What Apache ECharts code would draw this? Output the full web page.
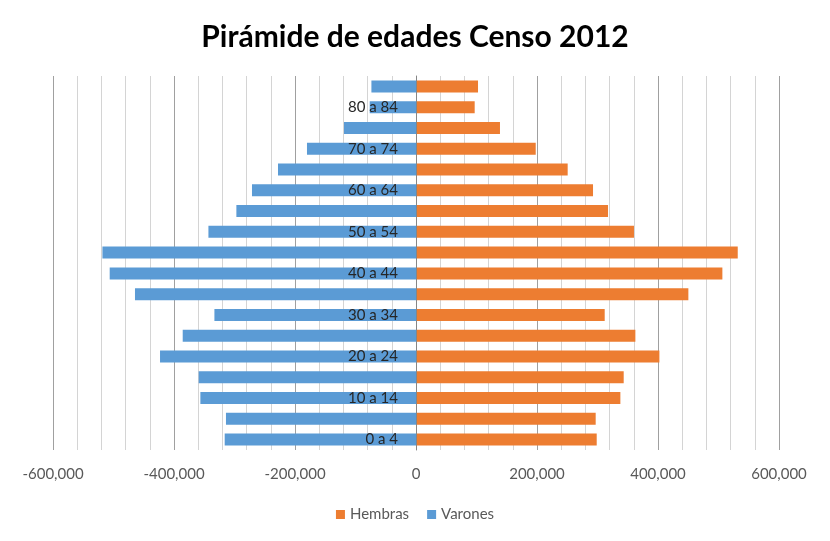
<!DOCTYPE html>
<html>
<head>
<meta charset="utf-8">
<script src="https://cdn.jsdelivr.net/npm/echarts@6/dist/echarts.min.js"></script>
<style>html,body{margin:0;padding:0;background:#fff;}#c{width:830px;height:541px;}</style>
</head>
<body>
<div id="c"></div>
<script>
const categories = ['0 a 4','5 a 9','10 a 14','15 a 19','20 a 24','25 a 29','30 a 34','35 a 39','40 a 44','45 a 49','50 a 54','55 a 59','60 a 64','65 a 69','70 a 74','75 a 79','80 a 84','85 y más'];
const hembras = [298700, 297000, 337800, 343300, 402300, 362600, 311900, 450200, 506400, 531800, 360300, 317400, 292600, 250700, 197900, 138800, 97000, 102500];
const varones = [316200, 314100, 356400, 359200, 423100, 385600, 333200, 464500, 506300, 518300, 343100, 296900, 271100, 228100, 180200, 119000, 76500, 73700];
const xTicks = {min: -600000, max: 600000, interval: 200000};

const font = 'Lato, "Open Sans", sans-serif';
const gridLeft = 53, gridRight = 51;
const plotWidth = 830 - gridLeft - gridRight;
const chart = echarts.init(document.getElementById('c'), null, {renderer: 'canvas'});
chart.setOption({
  backgroundColor: '#ffffff',
  animation: false,
  title: {
    text: 'Pirámide de edades Censo 2012',
    left: 'center', top: 17,
    textStyle: {fontFamily: font, fontWeight: 'bold', fontSize: 30, color: '#000'}
  },
  legend: {
    data: ['Hembras', 'Varones'],
    bottom: 14, left: 'center',
    icon: 'rect', itemWidth: 9, itemHeight: 9, itemGap: 18,
    textStyle: {fontFamily: font, fontSize: 15, color: '#595959'}
  },
  grid: {left: gridLeft, right: gridRight, top: 76, bottom: 91, containLabel: false, outerBoundsMode: 'none'},
  xAxis: {
    type: 'value',
    min: xTicks.min, max: xTicks.max, interval: xTicks.interval,
    axisLine: {show: false}, axisTick: {show: false},
    axisLabel: {
      margin: 17, fontFamily: font, fontSize: 15, color: '#595959',
      formatter: v => (v < 0 ? '-' : '') + Math.abs(v).toLocaleString('en-US')
    },
    splitLine: {show: true, lineStyle: {color: '#a0a0a0', width: 1}},
    minorTick: {show: false, splitNumber: 5},
    minorSplitLine: {show: true, lineStyle: {color: '#d4d4d4', width: 1}}
  },
  yAxis: {
    type: 'category',
    data: categories,
    position: 'left',
    offset: -plotWidth / 2,
    z: 10,
    axisLine: {show: true, onZero: false, lineStyle: {color: '#868686'}},
    axisTick: {show: false},
    axisLabel: {interval: 1, margin: 18, fontFamily: font, fontSize: 15, color: '#262626'},
    splitLine: {show: false}
  },
  series: [
    {
      name: 'Hembras', type: 'bar', data: hembras,
      barWidth: 12, barGap: '-100%',
      itemStyle: {color: '#ED7D31'}
    },
    {
      name: 'Varones', type: 'bar', data: varones.map(v => -v),
      barWidth: 12, barGap: '-100%',
      itemStyle: {color: '#5B9BD5'}
    }
  ]
});
</script>
</body>
</html>
